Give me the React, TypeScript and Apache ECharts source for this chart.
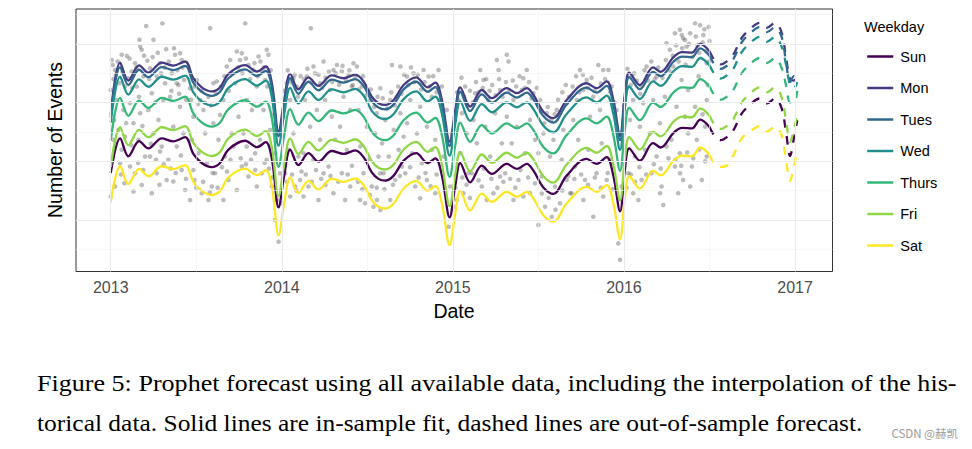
import React, { useEffect, useRef } from "react";
import * as echarts from "echarts";

const weekdays = ["Sun", "Mon", "Tues", "Wed", "Thurs", "Fri", "Sat"];
const colors = ["#440154", "#443A83", "#31688E", "#21908C", "#35B779", "#8FD744", "#FDE725"];

const xTickLabels = [2013, 2014, 2015, 2016, 2017];
const xMinorBreaks = [2013.5, 2014.5, 2015.5, 2016.5];
const yMajorBreaks = [1, 3, 5, 7];
const yMinorBreaks = [0, 2, 4, 6, 8];

// in-sample fit (decimal year)
const fitDates = [
  2013.000, 2013.055, 2013.103, 2013.166, 2013.220, 2013.298, 2013.366, 2013.435, 2013.483, 2013.532,
  2013.591, 2013.639, 2013.688, 2013.786, 2013.854, 2013.906, 2013.942, 2013.981, 2014.014, 2014.049,
  2014.097, 2014.156, 2014.214, 2014.292, 2014.361, 2014.429, 2014.478, 2014.526, 2014.565, 2014.605,
  2014.654, 2014.712, 2014.786, 2014.852, 2014.897, 2014.936, 2014.981, 2015.014, 2015.043, 2015.101,
  2015.169, 2015.228, 2015.315, 2015.374, 2015.432, 2015.471, 2015.529, 2015.588, 2015.665, 2015.782,
  2015.840, 2015.899, 2015.938, 2015.977, 2016.006, 2016.031, 2016.093, 2016.170, 2016.215, 2016.290,
  2016.340, 2016.397, 2016.446, 2016.500,
];
const fitSun = [
  2.60, 3.78, 3.17, 3.69, 3.44, 3.78, 3.68, 3.82, 3.25, 2.94,
  2.80, 2.94, 3.40, 3.70, 3.48, 3.65, 3.08, 1.43, 2.51, 3.40,
  2.87, 3.28, 2.99, 3.35, 3.25, 3.37, 3.14, 2.62, 2.40, 2.34,
  2.51, 3.02, 3.28, 2.94, 3.10, 2.51, 1.09, 2.17, 2.94, 2.28,
  2.85, 2.57, 2.91, 2.74, 2.91, 2.68, 2.11, 1.89, 2.51, 3.08,
  2.91, 3.14, 2.51, 1.29, 2.74, 3.44, 3.02, 3.62, 3.47, 3.97,
  4.14, 4.12, 4.42, 4.17,
];
const fitMon = [
  4.58, 6.36, 5.75, 6.27, 6.02, 6.36, 6.26, 6.40, 5.83, 5.52,
  5.38, 5.52, 5.98, 6.28, 6.06, 6.23, 5.66, 4.01, 5.09, 5.98,
  5.45, 5.86, 5.57, 5.93, 5.83, 5.95, 5.72, 5.20, 4.98, 4.92,
  5.09, 5.60, 5.86, 5.52, 5.68, 5.09, 3.67, 4.75, 5.52, 4.86,
  5.43, 5.15, 5.49, 5.32, 5.49, 5.26, 4.69, 4.47, 5.09, 5.66,
  5.49, 5.72, 5.09, 3.87, 5.32, 6.02, 5.60, 6.20, 6.05, 6.55,
  6.72, 6.70, 7.00, 6.75,
];
const fitTues = [
  4.49, 6.21, 5.60, 6.12, 5.87, 6.21, 6.11, 6.25, 5.68, 5.37,
  5.23, 5.37, 5.83, 6.13, 5.91, 6.08, 5.51, 3.86, 4.94, 5.83,
  5.30, 5.71, 5.42, 5.78, 5.68, 5.80, 5.57, 5.05, 4.83, 4.77,
  4.94, 5.45, 5.71, 5.37, 5.53, 4.94, 3.52, 4.60, 5.37, 4.71,
  5.28, 5.00, 5.34, 5.17, 5.34, 5.11, 4.54, 4.32, 4.94, 5.51,
  5.34, 5.57, 4.94, 3.72, 5.17, 5.87, 5.45, 6.05, 5.90, 6.40,
  6.57, 6.55, 6.85, 6.60,
];
const fitWed = [
  4.32, 5.88, 5.27, 5.79, 5.54, 5.88, 5.78, 5.92, 5.35, 5.04,
  4.90, 5.04, 5.50, 5.80, 5.58, 5.75, 5.18, 3.53, 4.61, 5.50,
  4.97, 5.38, 5.09, 5.45, 5.35, 5.47, 5.24, 4.72, 4.50, 4.44,
  4.61, 5.12, 5.38, 5.04, 5.20, 4.61, 3.19, 4.27, 5.04, 4.38,
  4.95, 4.67, 5.01, 4.84, 5.01, 4.78, 4.21, 3.99, 4.61, 5.18,
  5.01, 5.24, 4.61, 3.39, 4.84, 5.54, 5.12, 5.72, 5.57, 6.07,
  6.24, 6.22, 6.52, 6.27,
];
const fitThurs = [
  3.70, 5.16, 4.55, 5.07, 4.82, 5.16, 5.06, 5.20, 4.63, 4.32,
  4.18, 4.32, 4.78, 5.08, 4.86, 5.03, 4.46, 2.81, 3.89, 4.78,
  4.25, 4.66, 4.37, 4.73, 4.63, 4.75, 4.52, 4.00, 3.78, 3.72,
  3.89, 4.40, 4.66, 4.32, 4.48, 3.89, 2.47, 3.55, 4.32, 3.66,
  4.23, 3.95, 4.29, 4.12, 4.29, 4.06, 3.49, 3.27, 3.89, 4.46,
  4.29, 4.52, 3.89, 2.67, 4.12, 4.82, 4.40, 5.00, 4.85, 5.35,
  5.52, 5.50, 5.80, 5.55,
];
const fitFri = [
  2.80, 4.16, 3.55, 4.07, 3.82, 4.16, 4.06, 4.20, 3.63, 3.32,
  3.18, 3.32, 3.78, 4.08, 3.86, 4.03, 3.46, 1.81, 2.89, 3.78,
  3.25, 3.66, 3.37, 3.73, 3.63, 3.75, 3.52, 3.00, 2.78, 2.72,
  2.89, 3.40, 3.66, 3.32, 3.48, 2.89, 1.47, 2.55, 3.32, 2.66,
  3.23, 2.95, 3.29, 3.12, 3.29, 3.06, 2.49, 2.27, 2.89, 3.46,
  3.29, 3.52, 2.89, 1.67, 3.12, 3.82, 3.40, 4.00, 3.85, 4.35,
  4.52, 4.50, 4.80, 4.55,
];
const fitSat = [
  1.60, 2.83, 2.22, 2.74, 2.49, 2.83, 2.73, 2.87, 2.30, 1.99,
  1.85, 1.99, 2.45, 2.75, 2.53, 2.70, 2.13, 0.48, 1.56, 2.45,
  1.92, 2.33, 2.04, 2.40, 2.30, 2.42, 2.19, 1.67, 1.45, 1.39,
  1.56, 2.07, 2.33, 1.99, 2.15, 1.56, 0.14, 1.22, 1.99, 1.33,
  1.90, 1.62, 1.96, 1.79, 1.96, 1.73, 1.16, 0.94, 1.56, 2.13,
  1.96, 2.19, 1.56, 0.34, 1.79, 2.49, 2.07, 2.67, 2.52, 3.02,
  3.19, 3.17, 3.47, 3.22,
];

// out-of-sample forecast
const fcDates = [
  2016.500, 2016.533, 2016.566, 2016.605, 2016.640, 2016.689, 2016.757, 2016.792,
  2016.835, 2016.883, 2016.922, 2016.947, 2016.971, 2016.994, 2017.013,
];
const fcSun = [4.17, 3.84, 3.72, 3.84, 4.06, 4.63, 5.03, 5.14, 4.97, 5.14, 4.80, 4.01, 3.18, 3.80, 4.40];
const fcMon = [6.75, 6.42, 6.30, 6.42, 6.64, 7.21, 7.61, 7.72, 7.55, 7.72, 7.38, 6.56, 5.80, 5.75, 6.05];
const fcTues = [6.60, 6.27, 6.15, 6.27, 6.49, 7.06, 7.46, 7.57, 7.40, 7.57, 7.23, 6.40, 5.70, 5.90, 5.85];
const fcWed = [6.27, 5.94, 5.82, 5.94, 6.16, 6.73, 7.13, 7.24, 7.07, 7.24, 6.90, 6.30, 5.60, 5.50, 5.70];
const fcThurs = [5.55, 5.22, 5.10, 5.22, 5.44, 6.01, 6.41, 6.52, 6.35, 6.52, 6.18, 5.60, 5.00, 5.00, 5.40];
const fcFri = [4.55, 4.22, 4.10, 4.22, 4.44, 5.01, 5.41, 5.52, 5.35, 5.52, 5.18, 4.40, 3.65, 4.10, 4.60];
const fcSat = [3.22, 2.87, 2.81, 2.87, 3.21, 3.78, 4.10, 4.20, 4.01, 4.18, 3.89, 3.04, 2.33, 2.85, 3.35];

// observed daily counts (decimal year, value)
const observed = [
  [2013.000, 5.43], [2013.012, 6.28], [2013.025, 6.11], [2013.016, 5.80], [2013.035, 5.09], [2013.064, 6.63], [2013.094, 6.59], [2013.051, 5.66], [2013.074, 4.75], [2013.084, 5.55], [2013.045, 4.07], [2013.064, 3.39], [2013.000, 1.80], [2013.025, 2.14], [2013.055, 2.93], [2013.084, 3.84], [2013.016, 3.73],
  [2013.168, 7.14], [2013.172, 6.91], [2013.181, 6.80], [2013.142, 6.34], [2013.123, 6.06], [2013.191, 5.89], [2013.152, 5.55], [2013.113, 4.98], [2013.172, 4.64], [2013.133, 4.30], [2013.162, 3.73], [2013.201, 3.16], [2013.113, 2.82], [2013.142, 2.59], [2013.181, 2.19], [2013.133, 1.97], [2013.207, 7.61], [2013.214, 6.43], [2013.103, 5.83],
  [2013.250, 7.14], [2013.302, 7.70], [2013.324, 6.82], [2013.288, 6.34], [2013.230, 6.17], [2013.269, 5.89], [2013.240, 5.32], [2013.308, 5.09], [2013.220, 4.75], [2013.279, 4.41], [2013.250, 3.95], [2013.298, 3.50], [2013.230, 3.16], [2013.269, 2.59], [2013.327, 2.36], [2013.240, 1.91], [2013.288, 3.33], [2013.318, 5.66],
  [2013.376, 6.63], [2013.405, 6.68], [2013.415, 6.45], [2013.357, 6.00], [2013.386, 5.66], [2013.429, 5.77], [2013.347, 5.20], [2013.405, 4.86], [2013.366, 4.18], [2013.425, 3.95], [2013.386, 3.50], [2013.337, 3.05], [2013.415, 2.70], [2013.366, 2.31], [2013.435, 2.02], [2013.396, 5.60],
  [2013.581, 7.53], [2013.464, 5.49], [2013.503, 5.77], [2013.522, 5.09], [2013.483, 4.52], [2013.542, 4.75], [2013.571, 5.20], [2013.474, 3.73], [2013.513, 3.27], [2013.561, 2.93], [2013.493, 2.36], [2013.532, 1.91], [2013.571, 1.68], [2013.464, 1.68], [2013.600, 5.66], [2013.552, 3.95], [2013.483, 2.70],
  [2013.620, 5.72], [2013.659, 5.09], [2013.639, 4.58], [2013.678, 6.23], [2013.698, 6.45], [2013.600, 4.30], [2013.630, 3.73], [2013.669, 3.16], [2013.610, 2.59], [2013.659, 1.68], [2013.688, 2.36], [2013.708, 3.95], [2013.591, 2.14],
  [2013.737, 6.74], [2013.766, 6.68], [2013.786, 7.70], [2013.756, 6.45], [2013.805, 6.28], [2013.834, 6.11], [2013.864, 6.57], [2013.727, 5.66], [2013.795, 5.09], [2013.854, 5.55], [2013.747, 4.52], [2013.825, 4.75], [2013.776, 3.95], [2013.717, 3.50], [2013.844, 3.27], [2013.766, 2.82], [2013.805, 2.48], [2013.737, 2.02], [2013.854, 2.14], [2013.795, 3.50],
  [2013.912, 6.80], [2013.922, 6.63], [2013.883, 6.06], [2013.903, 5.77], [2013.951, 5.09], [2013.893, 4.75], [2013.932, 4.07], [2013.873, 3.73], [2013.961, 3.27], [2013.912, 3.05], [2013.883, 2.59], [2013.942, 2.14], [2013.971, 1.68], [2013.981, 0.26], [2013.961, 1.00], [2013.990, 2.59],
  [2014.029, 5.66], [2014.068, 5.83], [2014.049, 5.09], [2014.088, 5.55], [2014.010, 4.52], [2014.068, 3.95], [2014.039, 3.39], [2014.097, 3.16], [2014.019, 2.59], [2014.078, 2.14], [2014.049, 1.80], [2014.107, 2.36], [2014.000, 1.57],
  [2014.170, 7.53], [2014.185, 6.23], [2014.146, 5.89], [2014.224, 5.66], [2014.244, 6.40], [2014.136, 5.09], [2014.205, 4.75], [2014.253, 5.09], [2014.166, 4.18], [2014.224, 3.73], [2014.127, 3.27], [2014.185, 3.05], [2014.244, 2.59], [2014.156, 2.14], [2014.214, 1.68], [2014.127, 1.80],
  [2014.322, 6.28], [2014.351, 6.06], [2014.302, 6.11], [2014.390, 5.94], [2014.419, 6.34], [2014.283, 5.43], [2014.361, 5.20], [2014.409, 5.55], [2014.292, 4.52], [2014.341, 4.18], [2014.400, 4.75], [2014.312, 3.73], [2014.380, 3.39], [2014.273, 2.82], [2014.351, 2.59], [2014.400, 2.14], [2014.302, 1.91], [2014.370, 1.68],
  [2014.439, 6.23], [2014.468, 5.55], [2014.517, 5.09], [2014.556, 4.64], [2014.448, 4.75], [2014.497, 4.18], [2014.546, 3.95], [2014.458, 3.50], [2014.507, 3.05], [2014.565, 3.16], [2014.478, 2.59], [2014.526, 2.14], [2014.458, 1.68], [2014.536, 1.45], [2014.487, 1.57], [2014.575, 2.59],
  [2014.576, 5.49], [2014.634, 5.09], [2014.673, 5.20], [2014.605, 4.41], [2014.654, 4.07], [2014.693, 4.64], [2014.586, 3.61], [2014.625, 3.16], [2014.683, 3.39], [2014.595, 2.59], [2014.663, 2.36], [2014.556, 1.68], [2014.634, 1.68], [2014.702, 2.82], [2014.644, 6.28], [2014.693, 6.23], [2014.576, 1.34], [2014.712, 3.84],
  [2014.732, 5.89], [2014.770, 6.00], [2014.829, 6.11], [2014.858, 5.89], [2014.916, 6.11], [2014.751, 5.09], [2014.809, 4.86], [2014.877, 5.20], [2014.732, 4.30], [2014.790, 3.95], [2014.848, 4.18], [2014.897, 3.73], [2014.761, 3.27], [2014.819, 2.93], [2014.877, 3.39], [2014.722, 2.59], [2014.780, 2.14], [2014.848, 2.36], [2014.897, 1.91], [2014.809, 1.74],
  [2014.936, 5.55], [2014.965, 4.75], [2014.994, 3.95], [2014.984, 2.14], [2015.004, 1.45], [2014.975, 0.77], [2015.033, 5.09], [2015.072, 5.55], [2015.053, 4.64], [2015.082, 3.95], [2015.043, 3.27], [2015.091, 2.59], [2015.062, 1.91], [2015.023, 1.68], [2014.946, 3.16],
  [2015.160, 6.11], [2015.179, 5.77], [2015.257, 6.45], [2015.267, 6.11], [2015.130, 5.32], [2015.208, 5.09], [2015.276, 5.43], [2015.121, 4.41], [2015.189, 4.18], [2015.247, 4.64], [2015.140, 3.61], [2015.218, 3.16], [2015.286, 3.61], [2015.111, 2.59], [2015.169, 2.14], [2015.237, 1.91], [2015.276, 2.48], [2015.198, 1.68],
  [2015.315, 6.63], [2015.325, 6.40], [2015.412, 5.83], [2015.432, 6.11], [2015.354, 5.09], [2015.403, 5.43], [2015.471, 5.32], [2015.315, 4.52], [2015.374, 4.18], [2015.451, 4.41], [2015.344, 3.61], [2015.422, 3.27], [2015.481, 3.73], [2015.305, 2.59], [2015.383, 2.36], [2015.451, 1.91], [2015.354, 1.68], [2015.412, 1.80],
  [2015.510, 5.09], [2015.549, 4.64], [2015.607, 4.75], [2015.665, 4.98], [2015.529, 3.95], [2015.588, 3.73], [2015.646, 4.07], [2015.500, 3.27], [2015.568, 3.16], [2015.636, 3.05], [2015.519, 2.48], [2015.597, 2.14], [2015.665, 2.36], [2015.539, 1.45], [2015.500, 0.83], [2015.626, 1.57], [2015.685, 1.91], [2015.578, 1.11],
  [2015.743, 6.11], [2015.782, 5.77], [2015.850, 6.28], [2015.879, 6.11], [2015.763, 5.43], [2015.724, 5.09], [2015.821, 5.20], [2015.704, 4.41], [2015.802, 4.52], [2015.860, 4.75], [2015.733, 3.73], [2015.792, 3.39], [2015.870, 3.61], [2015.714, 2.82], [2015.772, 2.36], [2015.840, 2.59], [2015.695, 1.91], [2015.763, 1.68], [2015.821, 1.11], [2015.879, 1.80],
  [2015.909, 6.11], [2015.928, 5.55], [2015.957, 4.75], [2015.977, 3.95], [2015.986, 2.14], [2015.977, -0.36], [2015.967, 0.20], [2016.016, 5.55], [2016.045, 5.89], [2016.054, 5.09], [2016.035, 4.41], [2016.006, 3.50], [2016.064, 3.16], [2016.025, 2.59], [2016.054, 1.91], [2015.918, 3.05], [2015.899, 2.36],
  [2016.103, 5.55], [2016.132, 6.23], [2016.191, 5.89], [2016.230, 1.51], [2016.113, 4.98], [2016.171, 5.09], [2016.239, 5.20], [2016.093, 4.18], [2016.152, 3.95], [2016.210, 4.30], [2016.123, 3.39], [2016.191, 3.16], [2016.249, 3.50], [2016.103, 2.36], [2016.161, 2.59], [2016.220, 2.14], [2016.084, 1.68], [2016.268, 6.80], [2016.249, 7.02],
  [2016.298, 7.36], [2016.327, 7.48], [2016.346, 7.19], [2016.366, 6.91], [2016.288, 6.23], [2016.337, 5.77], [2016.375, 5.43], [2016.307, 4.86], [2016.356, 4.52], [2016.278, 3.73], [2016.327, 3.27], [2016.375, 3.95], [2016.298, 2.82], [2016.346, 2.36], [2016.317, 1.91],
  [2016.416, 7.70], [2016.445, 7.64], [2016.495, 7.58], [2016.387, 7.36], [2016.464, 7.30], [2016.338, 7.30], [2016.357, 7.13], [2016.484, 6.34], [2016.436, 5.90], [2016.484, 5.09], [2016.416, 4.86], [2016.474, 4.18], [2016.426, 3.73], [2016.484, 3.16], [2016.397, 2.82], [2016.455, 2.36], [2016.387, 2.14], [2016.328, 2.59], [2016.211, 1.91], [2016.470, 7.50], [2016.500, 7.10], [2016.430, 6.95], [2016.490, 5.60], [2016.460, 4.60],
  [2013.006, 6.45], [2013.030, 5.95], [2013.040, 6.40], [2013.070, 6.05], [2013.090, 4.30], [2013.020, 4.40], [2013.060, 2.55], [2013.080, 2.25],
  [2013.110, 6.50], [2013.125, 5.50], [2013.150, 6.20], [2013.165, 5.20], [2013.185, 4.20], [2013.195, 6.60], [2013.120, 3.55], [2013.160, 2.95], [2013.190, 2.70],
  [2013.225, 5.80], [2013.245, 6.55], [2013.260, 5.00], [2013.275, 6.70], [2013.295, 6.00], [2013.315, 6.20], [2013.235, 3.60], [2013.265, 3.05], [2013.285, 2.20], [2013.310, 2.90],
  [2013.340, 6.40], [2013.355, 5.40], [2013.370, 6.85], [2013.390, 6.10], [2013.400, 5.30], [2013.420, 6.20], [2013.440, 5.10], [2013.350, 2.75], [2013.380, 2.60], [2013.410, 3.20], [2013.440, 2.40],
  [2013.470, 5.10], [2013.490, 5.55], [2013.510, 4.95], [2013.530, 5.40], [2013.550, 5.00], [2013.585, 4.90], [2013.500, 2.10], [2013.540, 2.30], [2013.580, 1.95], [2013.595, 2.60],
  [2013.615, 5.30], [2013.645, 5.55], [2013.665, 5.90], [2013.690, 5.40], [2013.705, 6.00], [2013.625, 2.10], [2013.650, 2.80], [2013.680, 2.65], [2013.700, 3.05],
  [2013.745, 6.20], [2013.770, 6.00], [2013.790, 6.50], [2013.815, 5.80], [2013.840, 6.35], [2013.860, 5.90], [2013.760, 3.10], [2013.790, 2.90], [2013.820, 3.05], [2013.845, 2.70],
  [2013.875, 6.40], [2013.895, 6.20], [2013.915, 5.55], [2013.935, 6.10], [2013.955, 4.60], [2013.900, 2.95], [2013.925, 2.75], [2013.945, 2.45],
  [2014.015, 5.40], [2014.035, 6.10], [2014.055, 5.70], [2014.075, 5.95], [2014.095, 5.20], [2014.110, 5.90], [2014.030, 2.30], [2014.060, 2.55], [2014.085, 2.00], [2014.115, 2.65],
  [2014.130, 5.80], [2014.150, 6.15], [2014.175, 5.70], [2014.195, 6.00], [2014.215, 5.95], [2014.235, 5.50], [2014.255, 5.85], [2014.140, 2.55], [2014.175, 2.30], [2014.200, 2.70], [2014.230, 2.40], [2014.255, 2.20],
  [2014.275, 6.05], [2014.295, 5.70], [2014.315, 6.00], [2014.335, 5.60], [2014.355, 6.25], [2014.375, 5.75], [2014.395, 6.10], [2014.415, 5.60], [2014.285, 2.50], [2014.330, 2.30], [2014.385, 2.55], [2014.410, 2.85],
  [2014.430, 5.90], [2014.450, 5.45], [2014.475, 5.90], [2014.495, 5.25], [2014.520, 5.45], [2014.540, 4.85], [2014.560, 5.20], [2014.445, 2.30], [2014.470, 2.05], [2014.515, 1.85], [2014.555, 2.10],
  [2014.590, 5.15], [2014.615, 4.80], [2014.640, 5.35], [2014.660, 4.90], [2014.680, 5.55], [2014.700, 5.30], [2014.715, 5.95], [2014.600, 2.05], [2014.650, 2.20], [2014.690, 2.50],
  [2014.740, 5.60], [2014.755, 6.20], [2014.775, 5.70], [2014.795, 5.95], [2014.815, 5.45], [2014.835, 5.70], [2014.865, 5.55], [2014.885, 5.90], [2014.905, 5.35], [2014.750, 2.80], [2014.800, 2.45], [2014.840, 2.60], [2014.870, 2.15], [2014.905, 2.55],
  [2014.925, 5.10], [2014.955, 4.20], [2015.010, 4.50], [2015.025, 5.35], [2015.050, 5.85], [2015.065, 5.20], [2015.085, 4.90], [2015.100, 5.40], [2015.015, 2.10], [2015.055, 2.45], [2015.080, 2.20], [2015.100, 1.75],
  [2015.115, 5.00], [2015.135, 5.70], [2015.150, 5.35], [2015.175, 5.50], [2015.195, 5.80], [2015.215, 5.40], [2015.230, 5.60], [2015.250, 5.25], [2015.270, 5.80], [2015.290, 5.20], [2015.150, 2.35], [2015.180, 2.75], [2015.225, 2.40], [2015.260, 2.10], [2015.295, 2.30],
  [2015.310, 5.70], [2015.330, 5.40], [2015.350, 5.75], [2015.370, 5.55], [2015.390, 5.90], [2015.420, 5.50], [2015.445, 5.70], [2015.460, 5.15], [2015.490, 5.50], [2015.335, 2.40], [2015.365, 2.10], [2015.395, 2.70], [2015.440, 2.45], [2015.480, 2.25],
  [2015.515, 4.70], [2015.535, 4.30], [2015.555, 4.85], [2015.575, 4.40], [2015.595, 4.60], [2015.615, 5.10], [2015.640, 5.35], [2015.660, 5.60], [2015.680, 5.20], [2015.520, 1.90], [2015.560, 1.75], [2015.600, 1.35], [2015.640, 2.00], [2015.675, 2.50],
  [2015.700, 5.55], [2015.720, 5.90], [2015.740, 5.35], [2015.760, 5.95], [2015.790, 5.50], [2015.810, 5.85], [2015.830, 5.40], [2015.865, 5.65], [2015.710, 2.40], [2015.750, 2.55], [2015.790, 2.20], [2015.830, 2.45], [2015.865, 2.10],
  [2015.890, 5.80], [2015.920, 5.35], [2015.945, 5.00], [2016.000, 4.90], [2016.020, 6.15], [2016.040, 5.60], [2016.060, 6.00], [2015.905, 2.60], [2015.935, 2.05], [2016.015, 2.10], [2016.040, 2.55], [2016.065, 2.30],
  [2016.075, 5.75], [2016.095, 5.30], [2016.120, 6.10], [2016.140, 5.75], [2016.160, 6.40], [2016.180, 5.80], [2016.200, 6.20], [2016.225, 5.85], [2016.245, 6.45], [2016.265, 6.10], [2016.090, 2.80], [2016.130, 2.55], [2016.175, 2.90], [2016.215, 2.75], [2016.260, 3.10],
  [2016.285, 6.60], [2016.305, 6.95], [2016.320, 6.40], [2016.340, 6.85], [2016.360, 6.30], [2016.380, 7.00], [2016.400, 6.55], [2016.420, 7.25], [2016.440, 6.70], [2016.460, 7.05], [2016.480, 6.75], [2016.495, 6.40], [2016.300, 3.05], [2016.335, 2.85], [2016.370, 3.30], [2016.405, 3.10], [2016.440, 3.40], [2016.475, 3.00],
];

const fitValues = [fitSun, fitMon, fitTues, fitWed, fitThurs, fitFri, fitSat];
const fcValues = [fcSun, fcMon, fcTues, fcWed, fcThurs, fcFri, fcSat];

const captionLine1 = "Figure 5: Prophet forecast using all available data, including the interpolation of the his-";
const captionLine2 = "torical data. Solid lines are in-sample fit, dashed lines are out-of-sample forecast.";

const SANS = "'Liberation Sans', Arial, sans-serif";
const SERIF_NAME = "Liberation Serif";
const CAPTION_SIZE = 23;

function measureText(text: string, font: string): number {
  const ctx = document.createElement("canvas").getContext("2d");
  if (!ctx) return text.length * CAPTION_SIZE * 0.45;
  ctx.font = font;
  return ctx.measureText(text).width;
}

export default function App() {
  const ref = useRef<HTMLDivElement>(null);

  useEffect(() => {
    if (!ref.current) return;
    const chart = echarts.init(ref.current, null, { renderer: "svg" });

    const gridMajor = { color: "#ebebeb", width: 1.1, type: "solid" as const };
    const gridMinor = { color: "#f2f2f2", width: 0.6, type: "solid" as const };

    const captionFont = `${CAPTION_SIZE}px '${SERIF_NAME}', 'Times New Roman', serif`;
    const w1 = measureText(captionLine1, captionFont);
    const w2 = measureText(captionLine2, captionFont);
    const scale1 = w1 > 0 ? 920 / w1 : 1;
    const scale2 = w2 > 0 ? 826 / w2 : 1;

    const fitSeries = weekdays.map((name, i) => ({
      name,
      type: "line" as const,
      data: fitDates.map((d, j) => [d, fitValues[i][j]]),
      smooth: 0.35,
      symbol: "none",
      showSymbol: false,
      lineStyle: { color: colors[i], width: 2.3 },
      itemStyle: { color: colors[i] },
      z: 3,
      silent: true,
    }));
    const fcSeries = weekdays.map((name, i) => ({
      name,
      type: "line" as const,
      data: fcDates.map((d, j) => [d, fcValues[i][j]]),
      smooth: 0.35,
      symbol: "none",
      showSymbol: false,
      lineStyle: { color: colors[i], width: 2.3, type: [8.5, 8.5] as any },
      itemStyle: { color: colors[i] },
      z: 3,
      silent: true,
    }));

    chart.setOption({
      animation: false,
      grid: {
        left: 76,
        top: 9,
        width: 756.5,
        height: 262.5,
        show: true,
        borderColor: "#333333",
        borderWidth: 1,
        backgroundColor: "#ffffff",
      },
      xAxis: {
        type: "value",
        min: 2012.797,
        max: 2017.219,
        axisLine: { show: false },
        axisTick: { show: false },
        splitLine: { show: false },
        axisLabel: {
          customValues: xTickLabels,
          formatter: (v: number) => String(Math.round(v)),
          color: "#4d4d4d",
          fontSize: 16,
          fontFamily: SANS,
          margin: 8,
        },
      },
      yAxis: {
        type: "value",
        min: -0.757,
        max: 8.19,
        axisLine: { show: false },
        axisTick: { show: false },
        splitLine: { show: false },
        axisLabel: { show: false },
      },
      legend: {
        data: weekdays,
        orient: "vertical",
        left: 866,
        top: 49,
        padding: 0,
        itemWidth: 26,
        itemHeight: 14,
        itemGap: 16.5,
        itemStyle: { opacity: 0 },
        lineStyle: { type: "solid", width: 2.5 },
        textStyle: { color: "#000", fontSize: 14.5, fontFamily: SANS, padding: [0, 0, 0, 2] },
        selectedMode: false,
      },
      graphic: [
        {
          type: "text",
          left: 864,
          top: 19,
          style: { text: "Weekday", fill: "#000", font: `14.5px ${SANS}` },
        },
        {
          type: "text",
          x: 55,
          y: 140,
          rotation: Math.PI / 2,
          style: {
            text: "Number of Events",
            fill: "#000",
            font: `19.5px ${SANS}`,
            textAlign: "center",
            textVerticalAlign: "middle",
          },
        },
        {
          type: "text",
          x: 454,
          y: 311,
          style: {
            text: "Date",
            fill: "#000",
            font: `19.5px ${SANS}`,
            textAlign: "center",
            textVerticalAlign: "middle",
          },
        },
        {
          type: "text",
          x: 37,
          y: 383,
          scaleX: scale1,
          style: { text: captionLine1, fill: "#000", font: captionFont, textVerticalAlign: "middle" },
        },
        {
          type: "text",
          x: 37,
          y: 423,
          scaleX: scale2,
          style: { text: captionLine2, fill: "#000", font: captionFont, textVerticalAlign: "middle" },
        },
        {
          type: "text",
          right: 14,
          top: 427,
          style: { text: "CSDN @赫凯", fill: "#9a9a9a", font: `11.5px 'Noto Sans CJK SC', sans-serif` },
        },
      ],
      series: [
        {
          name: "observed",
          type: "scatter",
          data: observed,
          symbolSize: 4.6,
          itemStyle: { color: "rgba(55,55,55,0.42)" },
          z: 1,
          silent: true,
          markLine: {
            silent: true,
            symbol: ["none", "none"],
            label: { show: false },
            lineStyle: { type: "solid" },
            data: [
              ...xMinorBreaks.map((v) => ({ xAxis: v, lineStyle: gridMinor })),
              ...yMinorBreaks.map((v) => ({ yAxis: v, lineStyle: gridMinor })),
              ...xTickLabels.map((v) => ({ xAxis: v, lineStyle: gridMajor })),
              ...yMajorBreaks.map((v) => ({ yAxis: v, lineStyle: gridMajor })),
            ],
          },
        },
        ...fitSeries,
        ...fcSeries,
      ],
    });

    return () => chart.dispose();
  }, []);

  return (
    <div
      ref={ref}
      style={{ position: "fixed", left: 0, top: 0, width: 972, height: 449, background: "#ffffff" }}
    />
  );
}
